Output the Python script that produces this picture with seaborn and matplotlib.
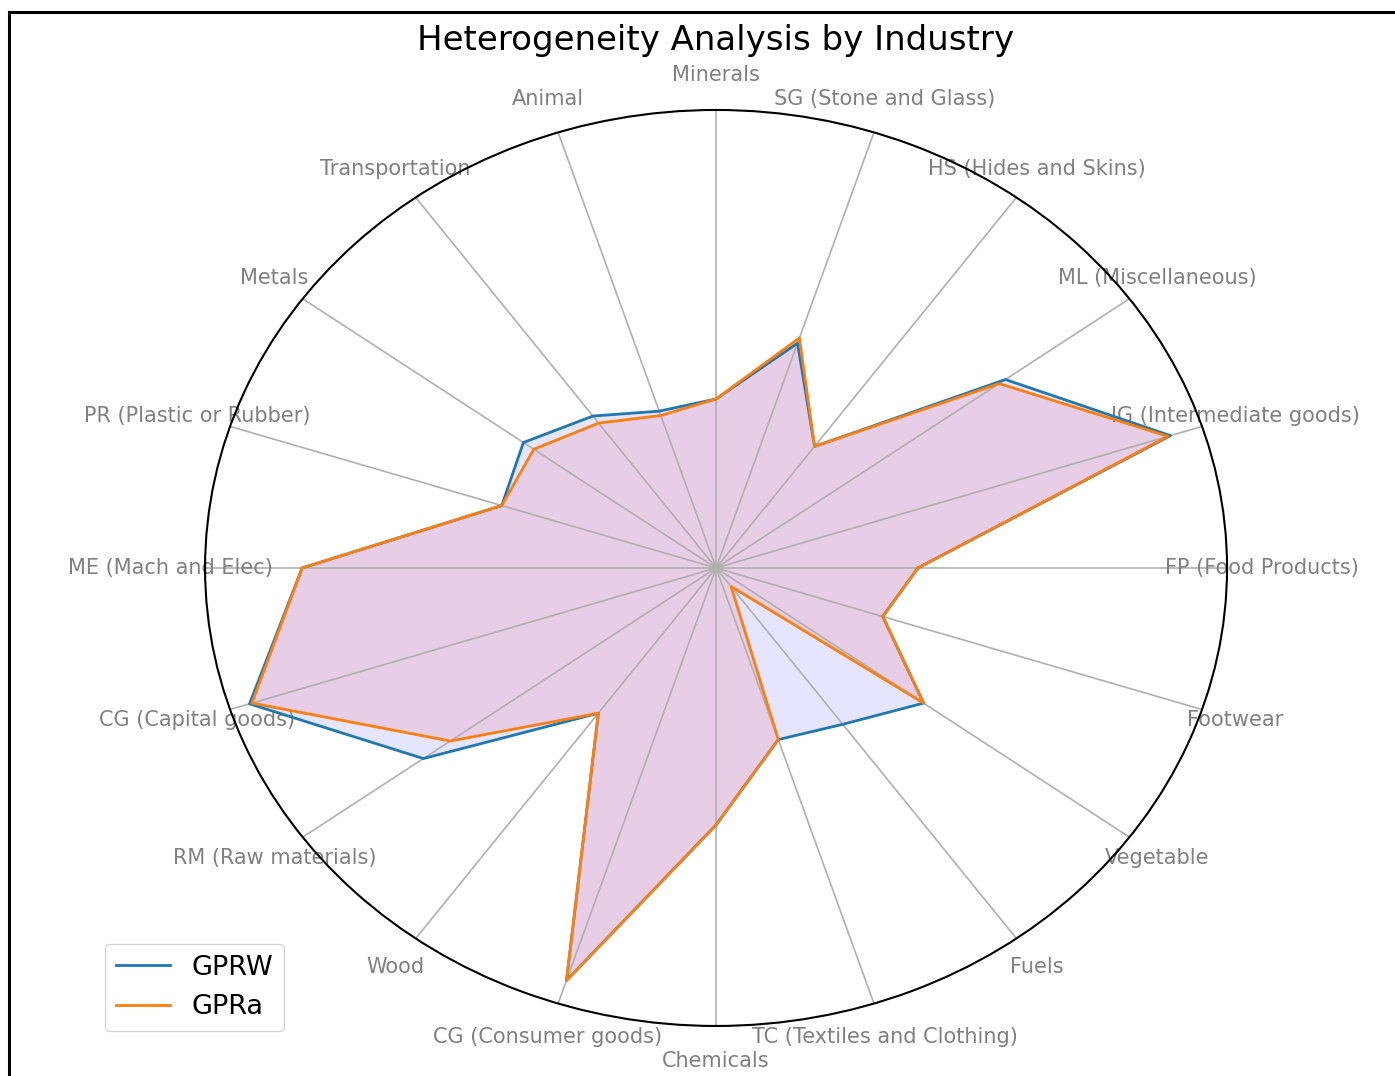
import numpy as np
import pandas as pd
import matplotlib
matplotlib.use("Agg")
import matplotlib.pyplot as plt
from matplotlib.lines import Line2D
import seaborn as sns

# industries, counter-clockwise starting at 3 o'clock
categories = ['FP (Food Products)', 'IG (Intermediate goods)', 'ML (Miscellaneous)',
              'HS (Hides and Skins)', 'SG (Stone and Glass)', 'Minerals', 'Animal',
              'Transportation', 'Metals', 'PR (Plastic or Rubber)', 'ME (Mach and Elec)',
              'CG (Capital goods)', 'RM (Raw materials)', 'Wood', 'CG (Consumer goods)',
              'Chemicals', 'TC (Textiles and Clothing)', 'Fuels', 'Vegetable', 'Footwear']

gprw = [0.395, 0.935, 0.700, 0.328, 0.516, 0.369, 0.360, 0.410, 0.466, 0.441,
        0.810, 0.960, 0.708, 0.392, 0.947, 0.561, 0.394, 0.422, 0.502, 0.343]
gpra = [0.395, 0.930, 0.685, 0.328, 0.528, 0.369, 0.350, 0.391, 0.441, 0.441,
        0.810, 0.955, 0.643, 0.392, 0.947, 0.561, 0.394, 0.050, 0.502, 0.343]

series_names = ['GPRW', 'GPRa']
series_vals = [gprw, gpra]
fill_colors = ['blue', 'red']

n = len(categories)
angles = np.linspace(0, 2 * np.pi, n, endpoint=False)
angles_closed = np.append(angles, angles[0] + 2 * np.pi)

# long-form table for seaborn
rows = []
for name, vals in zip(series_names, series_vals):
    closed = list(vals) + [vals[0]]
    for a, v in zip(angles_closed, closed):
        rows.append({'angle': a, 'value': v, 'series': name})
df = pd.DataFrame(rows)

fig = plt.figure(figsize=(13.95, 10.76), dpi=100)
ax = fig.add_axes([0.147, 0.0465, 0.7326, 0.8513], projection='polar')
ax.set_aspect('auto')

for name, vals, fc in zip(series_names, series_vals, fill_colors):
    closed = list(vals) + [vals[0]]
    ax.fill(angles_closed, closed, color=fc, alpha=0.1)

sns.lineplot(data=df, x='angle', y='value', hue='series', hue_order=series_names,
             palette=['#1f77b4', '#ff7f0e'], sort=False, estimator=None,
             linewidth=2, legend=False, ax=ax)

ax.set_xlabel('')
ax.set_ylabel('')
ax.set_ylim(0, 1)
ax.set_yticks([])
ax.set_xticks(angles)
ax.set_xticklabels(categories, fontsize=15, color='gray')
ax.tick_params(axis='x', pad=14.5)
ax.xaxis.grid(True, color='#b0b0b0', linewidth=1.2)
ax.spines['polar'].set_linewidth(1.5)

ax.set_title('Heterogeneity Analysis by Industry', fontsize=24.5, pad=43)

ax.legend(ax.lines[:2], series_names, fontsize=19.5, loc='lower left',
          bbox_to_anchor=(105 / 1395, 1 - 1031 / 1076),
          bbox_transform=fig.transFigure, borderaxespad=0)

# screenshot border on top and left
fig.add_artist(Line2D([9 / 1395, 1], [1 - 12 / 1076, 1 - 12 / 1076],
                      transform=fig.transFigure, color='black', linewidth=2.2))
fig.add_artist(Line2D([9 / 1395, 9 / 1395], [0, 1 - 12 / 1076],
                      transform=fig.transFigure, color='black', linewidth=2.2))

fig.savefig('out.png', dpi=100)
